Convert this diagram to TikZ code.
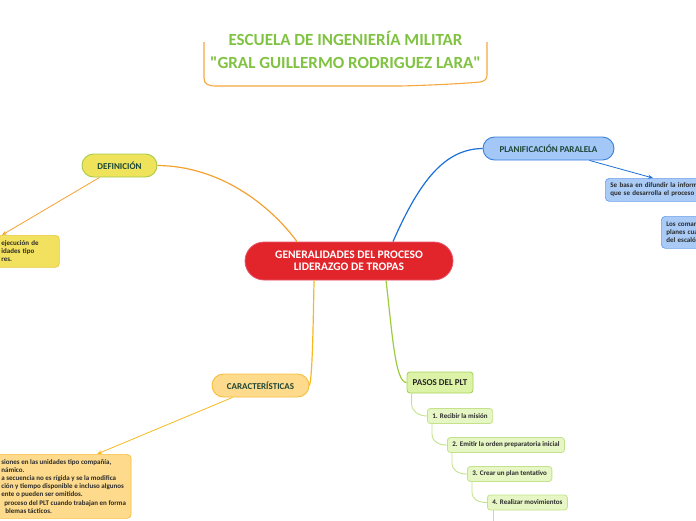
\documentclass[tikz,border=0pt]{standalone}
\usepackage{fontspec}
\setmainfont{Carlito}
\newfontfamily\headfont{Carlito}
\usetikzlibrary{arrows.meta}

\definecolor{hubred}{HTML}{E1252B}
\definecolor{hubedge}{HTML}{E8566E}
\definecolor{titlegreen}{HTML}{80C241}
\definecolor{frameorange}{HTML}{F5A83E}
\definecolor{pilltext}{HTML}{1D4638}
\definecolor{notetext}{HTML}{2A2A2A}
\definecolor{deforange}{HTML}{F4A12F}
\definecolor{deffill}{HTML}{EEE35B}
\definecolor{defline}{HTML}{A8CB4C}
\definecolor{defnotefill}{HTML}{F2E15E}
\definecolor{defnoteline}{HTML}{E8C942}
\definecolor{planblue}{HTML}{1A6FD9}
\definecolor{planfill}{HTML}{A3C7F6}
\definecolor{planline}{HTML}{3A7FDF}
\definecolor{plannotefill}{HTML}{A9CBF6}
\definecolor{plannoteline}{HTML}{6EA1EA}
\definecolor{caracgold}{HTML}{F8B91E}
\definecolor{caracfill}{HTML}{FEDB8C}
\definecolor{caracline}{HTML}{F6BD3B}
\definecolor{pasosgreen}{HTML}{9DCB3E}
\definecolor{pasosfill}{HTML}{DCF2A7}
\definecolor{pasosline}{HTML}{A9D45C}
\definecolor{itemfill}{HTML}{E7F6C5}
\definecolor{itemline}{HTML}{C4E28B}

\begin{document}
\begin{tikzpicture}[x=1pt,y=-1pt,
  framecurve/.style={draw=frameorange, line width=1.1pt},
  hub/.style={draw=hubedge, fill=hubred, line width=0.8pt, rounded corners=19pt, minimum width=208pt, minimum height=38pt, align=center, text=white, font=\fontsize{11.5}{12.5}\selectfont\bfseries},
  pill/.style={draw, line width=0.9pt, rounded corners=11.5pt, minimum height=23pt, inner xsep=6pt, inner ysep=2pt, text=pilltext, font=\fontsize{9}{10}\selectfont\bfseries},
  note/.style={draw, line width=0.7pt, rounded corners=4pt, inner xsep=5pt, inner ysep=4pt, align=left, text=notetext, font=\fontsize{7}{8.2}\selectfont\bfseries},
  stepitem/.style={draw=itemline, fill=itemfill, line width=0.8pt, rounded corners=3pt, minimum height=15pt, inner xsep=5pt, inner ysep=1pt, text=notetext, font=\fontsize{7}{8}\selectfont\bfseries},
  link/.style={line width=1.2pt},
  pointer/.style={line width=0.8pt, -{Stealth[length=5pt,width=4pt]}},
  twig/.style={draw=itemline, line width=0.9pt}]
\useasboundingbox (0,0) rectangle (696,520);
\clip (0,0) rectangle (696,520);

\draw[framecurve] (204,42) -- (204,78) .. controls (204,84) and (208,86) .. (216,86) -- (400,86) .. controls (440,85) and (470,83) .. (480,82) .. controls (485,81) and (487,79) .. (487,75) -- (487,42);
\node[align=center, text=titlegreen, font=\headfont\fontsize{17}{22.5}\selectfont\bfseries] (title) at (345.5,50) {ESCUELA DE INGENIERÍA MILITAR\\"GRAL GUILLERMO RODRIGUEZ LARA"};

\node[hub] (hub) at (349,261) {GENERALIDADES DEL PROCESO\\LIDERAZGO DE TROPAS};

\node[pill, draw=defline, fill=deffill, minimum width=75pt] (def) at (119.5,165.5) {DEFINICIÓN};
\node[pill, draw=planline, fill=planfill, minimum width=131pt] (plan) at (548.5,148.5) {PLANIFICACIÓN PARALELA};
\node[pill, draw=caracline, fill=caracfill, minimum width=97pt] (carac) at (260.5,385.5) {CARACTERÍSTICAS};
\node[draw=pasosline, fill=pasosfill, line width=0.9pt, rounded corners=3pt, minimum width=66pt, minimum height=21pt, inner sep=2pt, text=notetext!90!black, font=\fontsize{9}{10}\selectfont\bfseries] (pasos) at (440,382.5) {PASOS DEL PLT};

\node[note, draw=defnoteline, fill=defnotefill, anchor=north west, text width=53pt, minimum height=32pt] (defnote) at (-4,235) {ejecución de\\idades tipo\\res.};
\node[note, draw=plannoteline, fill=plannotefill, anchor=north west, text width=95pt, minimum height=23pt] (plannote) at (605,178) {Se basa en difundir la inform\\que se desarrolla el proceso d};
\node[note, draw=plannoteline, fill=plannotefill, anchor=north west, text width=50pt, minimum height=32pt] (plannoteb) at (661,216) {Los coman\\planes cua\\del escaló};
\node[note, draw=caracline, fill=caracfill, anchor=north west, minimum height=64pt] (caracnote) at (-4,454) {siones en las unidades tipo compañía,\\námico.\\a secuencia no es rígida y se la modifica\\ción y tiempo disponible e incluso algunos\\ente o pueden ser omitidos.\\\hspace*{3pt}proceso del PLT cuando trabajan en forma\\\hspace*{4pt}blemas tácticos.};

\node[stepitem, anchor=west] (step1) at (427,416) {1. Recibir la misión};
\node[stepitem, anchor=west] (step2) at (447,445) {2. Emitir la orden preparatoria inicial};
\node[stepitem, anchor=west] (step3) at (467,474) {3. Crear un plan tentativo};
\node[stepitem, anchor=west] (step4) at (487,502.5) {4. Realizar movimientos};

\draw[link, deforange] ([xshift=-52pt]hub.north) .. controls (270,205) and (220,166) .. (def.east);
\draw[link, planblue] ([xshift=44pt]hub.north) .. controls (420,180) and (445,149) .. (plan.west);
\draw[link, caracgold] ([xshift=-35pt]hub.south) .. controls (313,340) and (312,378) .. (carac.east);
\draw[link, pasosgreen] ([xshift=37pt]hub.south) .. controls (392,330) and (395,383) .. (pasos.west);

\draw[pointer, deforange] ([xshift=-20pt]def.south) -- ([xshift=6pt]defnote.north west);
\draw[pointer, planblue] ([xshift=41pt]plan.south) -- ([xshift=48pt]plannote.north west);
\draw[pointer, caracgold] ([xshift=-28pt]carac.south) -- ([xshift=101pt]caracnote.north west);

\draw[twig] ([xshift=5pt]pasos.south west) -- ++(0,10) .. controls +(0,8) and +(-8,0) .. (step1.west);
\draw[twig] ([xshift=5pt]step1.south west) -- ++(0,10) .. controls +(0,8) and +(-8,0) .. (step2.west);
\draw[twig] ([xshift=5pt]step2.south west) -- ++(0,10) .. controls +(0,8) and +(-8,0) .. (step3.west);
\draw[twig] ([xshift=5pt]step3.south west) -- ++(0,10) .. controls +(0,8) and +(-8,0) .. (step4.west);
\draw[twig] ([xshift=6pt]step4.south west) -- ++(0,15);
\end{tikzpicture}
\end{document}
